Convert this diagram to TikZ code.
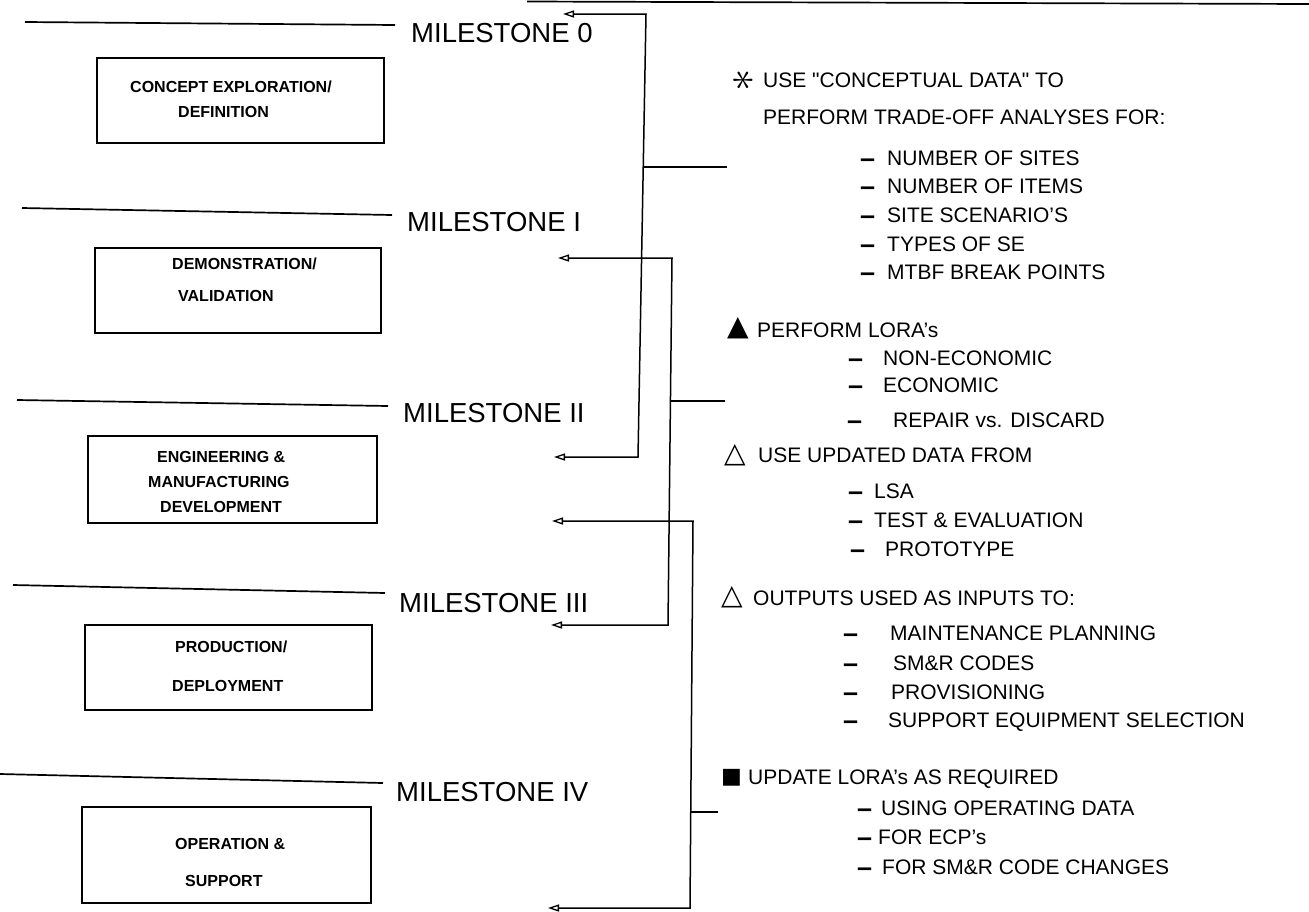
\documentclass[tikz,border=0pt]{standalone}
\usepackage{fontspec}
\setmainfont{Liberation Sans}
\setmonofont{Liberation Sans}
\newfontfamily\symfont{DejaVu Sans}
\usetikzlibrary{arrows.meta}
\newcommand\itemdash{\raisebox{-1.5pt}{\fontsize{27}{27}\selectfont\bfseries –}}
\newcommand\itemrow[5]{\node[rtext] (#1) at (#2,#4) {\makebox[\dimexpr#3pt-#2pt\relax][l]{\itemdash}#5};}
\newcommand\sq{{\ttfamily\symbol{34}}}
\begin{document}
\begin{tikzpicture}[x=1pt,y=-1pt,
  sepline/.style={line width=1.7pt},
  conn/.style={line width=1.5pt},
  tips/.style={{Triangle[open,length=11pt,width=7pt,line width=1.3pt]}-{Triangle[open,length=11pt,width=7pt,line width=1.3pt]}},
  phase/.style={draw, line width=1.4pt, inner sep=0pt},
  mstone/.style={anchor=west, inner sep=0pt, font=\fontsize{27.5}{30}\selectfont, text height=19.7pt, text depth=0pt},
  btext/.style={anchor=west, inner sep=0pt, font=\fontsize{16}{18}\selectfont\bfseries, text height=11.5pt, text depth=0pt},
  rtext/.style={anchor=west, inner sep=0pt, font=\fontsize{21}{24}\selectfont, text height=15pt, text depth=0pt},
  sym/.style={anchor=west, inner sep=0pt, font=\symfont\fontsize{28}{28}\selectfont}
]
\useasboundingbox (0,0) rectangle (1309,911);
\fill[white] (0,0) rectangle (1309,911);

% top rule
\coordinate (T1) at (527,1.5);
\coordinate (T2) at (1309,4);
\draw[sepline] (T1) -- (T2);

% milestone separator lines
\coordinate (L0a) at (25,22);  \coordinate (L0b) at (395,25);
\coordinate (L1a) at (22,208); \coordinate (L1b) at (392,215);
\coordinate (L2a) at (17,400); \coordinate (L2b) at (388,406);
\coordinate (L3a) at (13,585); \coordinate (L3b) at (385,593);
\coordinate (L4a) at (0,774);  \coordinate (L4b) at (383,783);
\draw[sepline] (L0a) -- (L0b);
\draw[sepline] (L1a) -- (L1b);
\draw[sepline] (L2a) -- (L2b);
\draw[sepline] (L3a) -- (L3b);
\draw[sepline] (L4a) -- (L4b);

% milestone labels
\node[mstone] (m0) at (411,33) {MILESTONE 0};
\node[mstone] (m1) at (407,222) {MILESTONE I};
\node[mstone] (m2) at (403,413) {MILESTONE II};
\node[mstone] (m3) at (399,603) {MILESTONE III};
\node[mstone] (m4) at (396,792) {MILESTONE IV};

% phase boxes
\node[phase, minimum width=287pt, minimum height=85pt] (b1) at (240.5,100.5) {};
\node[phase, minimum width=286pt, minimum height=85pt] (b2) at (238,290.5) {};
\node[phase, minimum width=289pt, minimum height=87pt] (b3) at (232.5,479.5) {};
\node[phase, minimum width=287pt, minimum height=85pt] (b4) at (228.5,667.5) {};
\node[phase, minimum width=289pt, minimum height=96pt] (b5) at (226.5,855) {};

\node[btext] (b1a) at (130,87) {CONCEPT EXPLORATION/};
\node[btext] (b1b) at (178,112) {DEFINITION};
\node[btext] (b2a) at (172,264) {DEMONSTRATION/};
\node[btext] (b2b) at (178,296) {VALIDATION};
\node[btext] (b3a) at (157,457) {ENGINEERING \&};
\node[btext] (b3b) at (148,482) {MANUFACTURING};
\node[btext] (b3c) at (160,507) {DEVELOPMENT};
\node[btext] (b4a) at (175,647) {PRODUCTION/};
\node[btext] (b4b) at (172,686) {DEPLOYMENT};
\node[btext] (b5a) at (175,844) {OPERATION \&};
\node[btext] (b5b) at (185,881) {SUPPORT};

% bracket connectors
\coordinate (tA1) at (563,14);  \coordinate (cA1) at (646,14);
\coordinate (cA2) at (638,457); \coordinate (tA2) at (554,457);
\coordinate (jA) at (643.2,167); \coordinate (sA) at (727,167);
\coordinate (tB1) at (558,258); \coordinate (cB1) at (672,258);
\coordinate (cB2) at (668,625); \coordinate (tB2) at (551,625);
\coordinate (jB) at (670.4,401); \coordinate (sB) at (725,401);
\coordinate (tC1) at (552,521); \coordinate (cC1) at (693,521);
\coordinate (cC2) at (690,908); \coordinate (tC2) at (548,908);
\coordinate (jC) at (690.7,812); \coordinate (sC) at (718,812);

\draw[conn, tips] (tA1) -- (cA1) -- (cA2) -- (tA2);
\draw[conn] (jA) -- (sA);
\draw[conn, tips] (tB1) -- (cB1) -- (cB2) -- (tB2);
\draw[conn] (jB) -- (sB);
\draw[conn, tips] (tC1) -- (cC1) -- (cC2) -- (tC2);
\draw[conn] (jC) -- (sC);

% right-hand notes
\node[inner sep=0pt, rotate=90, scale=1.8, font=\fontsize{24.88}{25}\selectfont] (s1) at (744,80) {$\ast$};
\node[rtext] (h1a) at (763,80) {USE \sq CONCEPTUAL DATA\sq{} TO};
\node[rtext] (h1b) at (763,117) {PERFORM TRADE-OFF ANALYSES FOR:};
\itemrow{i11}{860}{887}{158}{NUMBER OF SITES}
\itemrow{i12}{860}{887}{186}{NUMBER OF ITEMS}
\itemrow{i13}{860}{887}{215}{SITE SCENARIO'S}
\itemrow{i14}{860}{887}{244}{TYPES OF SE}
\itemrow{i15}{860}{887}{272}{MTBF BREAK POINTS}

\node[sym] (s2) at (727,328) {▲};
\node[rtext] (h2) at (757,330) {PERFORM LORA's};
\itemrow{i21}{848}{883}{358}{NON-ECONOMIC}
\itemrow{i22}{848}{883}{385}{ECONOMIC}
\itemrow{i23}{847}{893}{420}{REPAIR vs. DISCARD}

\node[sym] (s3) at (724,455) {△};
\node[rtext] (h3) at (758,455) {USE UPDATED DATA FROM};
\itemrow{i31}{848}{874}{491}{LSA}
\itemrow{i32}{848}{874}{520}{TEST \& EVALUATION}
\itemrow{i33}{850}{885}{549}{PROTOTYPE}

\node[sym] (s4) at (721,597) {△};
\node[rtext] (h4) at (753,598) {OUTPUTS USED AS INPUTS TO:};
\itemrow{i41}{843}{890}{633}{MAINTENANCE PLANNING}
\itemrow{i42}{843}{893}{663}{SM\&R CODES}
\itemrow{i43}{843}{891}{692}{PROVISIONING}
\itemrow{i44}{843}{888}{720}{SUPPORT EQUIPMENT SELECTION}

\node[sym, font=\symfont\fontsize{22}{22}\selectfont] (s5) at (721,778) {■};
\node[rtext] (h5) at (748,777) {UPDATE LORA's AS REQUIRED};
\itemrow{i51}{857}{881}{808}{USING OPERATING DATA}
\itemrow{i52}{857}{878}{837}{FOR ECP's}
\itemrow{i53}{857}{882}{867}{FOR SM\&R CODE CHANGES}
\end{tikzpicture}
\end{document}
